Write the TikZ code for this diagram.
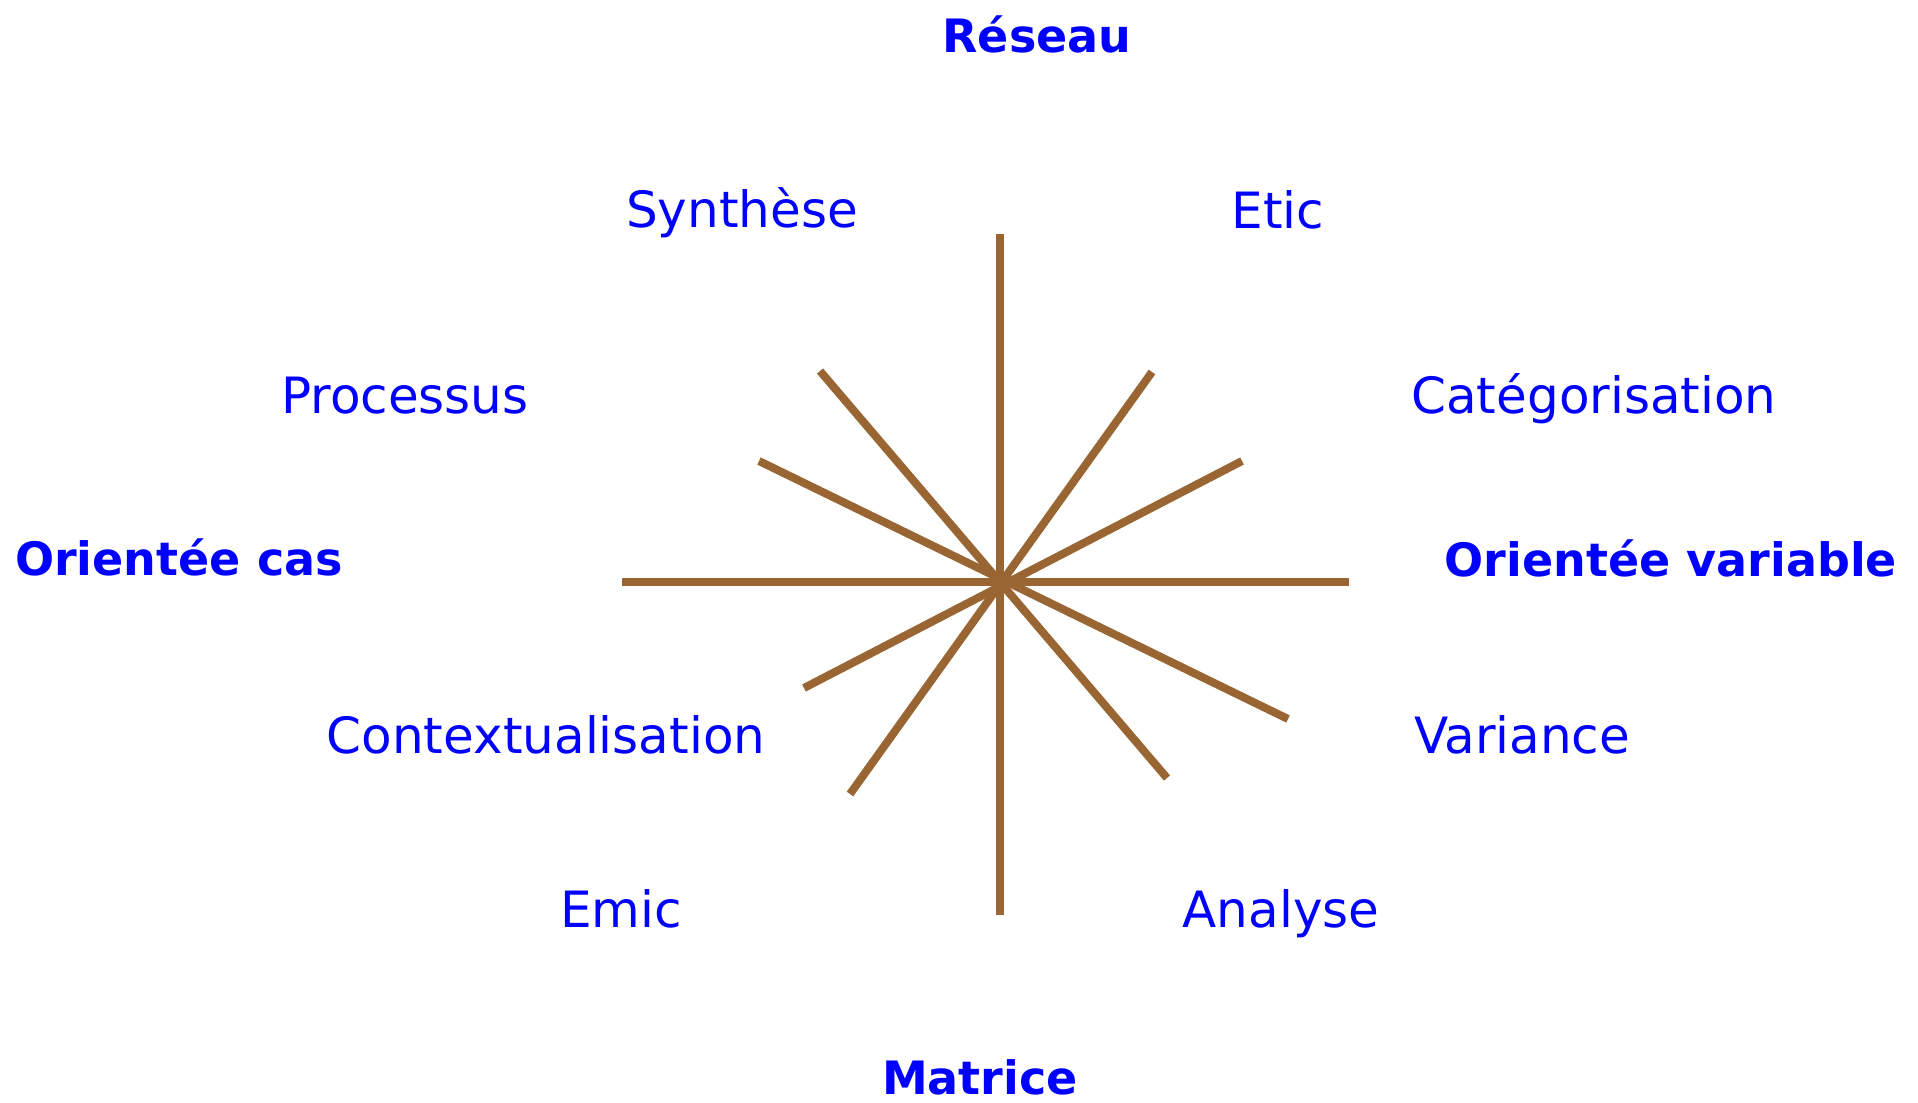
\documentclass[tikz,border=0pt]{standalone}
\usepackage{fontspec}
\setmainfont{DejaVu Sans}
\definecolor{spoke}{RGB}{153,102,51}
\definecolor{lbl}{RGB}{0,0,255}
\begin{document}
\begin{tikzpicture}[x=0.5pt,y=-0.5pt,
  spokeline/.style={draw=spoke,line width=4pt,line cap=butt},
  lab/.style={text=lbl,inner sep=0pt,anchor=base,font=\fontsize{25}{30}\selectfont},
  boldlab/.style={text=lbl,inner sep=0pt,anchor=base,font=\fontsize{23}{28}\selectfont\bfseries}]
\useasboundingbox (0,0) rectangle (1918,1103);
% spoke end points
\coordinate (c) at (1000,582);
\coordinate (n) at (1000,234);
\coordinate (s) at (1000,915);
\coordinate (w) at (622,582);
\coordinate (e) at (1349,582);
\coordinate (nw) at (820,371);
\coordinate (se) at (1167,778);
\coordinate (ne) at (1152,372);
\coordinate (sw) at (850,794);
\coordinate (wnw) at (759,461);
\coordinate (ese) at (1288,719);
\coordinate (ene) at (1242,461);
\coordinate (wsw) at (804,688);
\draw[spokeline] (n) -- (s);
\draw[spokeline] (w) -- (e);
\draw[spokeline] (nw) -- (se);
\draw[spokeline] (ne) -- (sw);
\draw[spokeline] (wnw) -- (ese);
\draw[spokeline] (ene) -- (wsw);
% labels
\node[boldlab] (reseau) at (1037,52) {Réseau};
\node[lab] (synthese) at (742,227) {Synthèse};
\node[lab] (etic) at (1278,228) {Etic};
\node[lab] (processus) at (405,413) {Processus};
\node[lab] (categ) at (1594,413) {Catégorisation};
\node[boldlab] (ocas) at (179,575) {Orientée cas};
\node[boldlab] (ovar) at (1671,576) {Orientée variable};
\node[lab] (context) at (546,753) {Contextualisation};
\node[lab] (variance) at (1522,753) {Variance};
\node[lab] (emic) at (621,927) {Emic};
\node[lab] (analyse) at (1281,927) {Analyse};
\node[boldlab] (matrice) at (980,1094) {Matrice};
\end{tikzpicture}
\end{document}
